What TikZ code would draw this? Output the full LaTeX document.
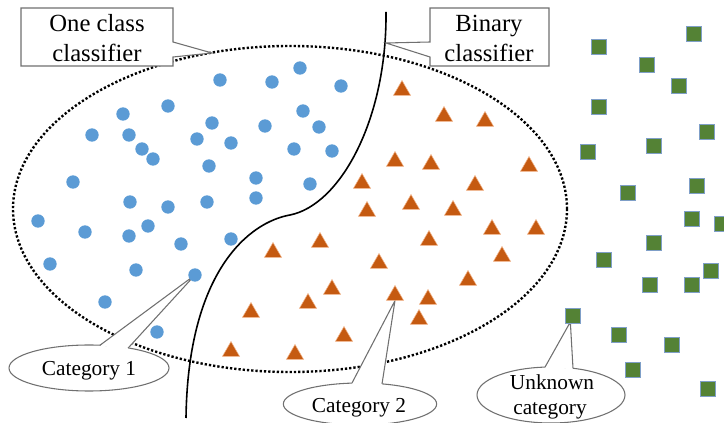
\documentclass[tikz,border=0pt]{standalone}
\usepackage{fontspec}
\setmainfont{Liberation Serif}
\usetikzlibrary{shapes.geometric}

\definecolor{ptblue}{HTML}{5B9BD5}
\definecolor{ptorange}{HTML}{C55A11}
\definecolor{ptorangeedge}{HTML}{F2B48A}
\definecolor{ptgreen}{HTML}{548235}
\definecolor{ptgreenedge}{HTML}{7F9FC8}
\definecolor{calloutgray}{HTML}{707070}

\pgfdeclarelayer{back}
\pgfdeclarelayer{mid}
\pgfsetlayers{back,mid,main}

\begin{document}
\begin{tikzpicture}[x=0.75pt,y=-0.75pt,
  dot/.style={circle, fill=ptblue, inner sep=0pt, minimum size=10pt},
  tri/.style={regular polygon, regular polygon sides=3, fill=ptorange,
    draw=ptorangeedge, line width=0.4pt, inner sep=0pt, minimum size=14.8pt,
    yshift=-1.8pt},
  sq/.style={rectangle, fill=ptgreen, draw=ptgreenedge, line width=0.6pt,
    inner sep=0pt, minimum size=11.2pt},
  region/.style={line width=1.8pt, dash pattern=on 1.7pt off 1.5pt},
  boundary/.style={line width=1.2pt, black},
  callout/.style={draw=calloutgray, line width=0.8pt, fill=white},
  pointer/.style={draw=calloutgray, line width=0.8pt},
  boxtext/.style={anchor=base, inner sep=0pt, font=\fontsize{18.5}{22}\selectfont},
  tagtext/.style={anchor=base, inner sep=0pt, font=\fontsize{16}{19}\selectfont}]

\useasboundingbox (0,0) rectangle (724,423);
\clip (0,0) rectangle (724,423);

% ---- category 1: circles
\foreach \x/\y [count=\i] in {300/68,220/80,272/82,341/86,168/106,123/114,303/111,
  212/123,265/126,319/127,92/135,129/135,197/139,231/143,142/149,294/149,332/151,
  153/159,209/166,73/182,256/178,310/184,130/202,168/207,207/202,256/198,38/221,
  85/232,129/236,148/226,181/244,231/239,50/264,136/270,105/302,157/332}
  \node[dot] (b\i) at (\x,\y) {};
\node[dot] (c1) at (195,275) {};

% ---- category 2: triangles
\foreach \x/\y [count=\i] in {402/88,444/114,485/119,395/159,431/162,529/164,362/181,
  475/183,411/202,453/208,367/209,492/227,536/227,429/238,379/261,502/254,468/278,
  428/297,419/317,320/240,273/250,332/287,308/301,251/310,344/334,231/349,295/352}
  \node[tri] (o\i) at (\x,\y) {};
\node[tri] (c2) at (395,293) {};

% ---- unknown category: squares
\foreach \x/\y [count=\i] in {694/34,599/47,647/65,679/86,599/107,707/132,654/146,
  588/152,697/186,628/193,692/219,722/224,654/243,604/260,711/271,650/285,692/285,
  619/335,672/345,633/370,708/389}
  \node[sq] (g\i) at (\x,\y) {};
\node[sq] (unk) at (573,316) {};

% ---- decision regions
\begin{pgfonlayer}{back}
  \draw[region] (290,209) ellipse [x radius=207.75pt, y radius=122.25pt];
  \draw[boundary] (386,12) .. controls (387,120) and (340,205) .. (290,215)
    .. controls (250,222) and (188,270) .. (186,418);
\end{pgfonlayer}

% ---- callouts
\begin{pgfonlayer}{mid}
  % one class classifier
  \path[callout] (21,8) -- (173,8) -- (173,42) -- (212,53) -- (173,57)
    -- (173,66) -- (21,66) -- cycle;
  \node[boxtext] (occa) at (97,31.7) {One class};
  \node[boxtext] (occb) at (97,61.7) {classifier};

  % binary classifier
  \path[callout] (430,8) -- (549,8) -- (549,66) -- (430,66) -- (430,57)
    -- (386,43) -- (430,42) -- cycle;
  \node[boxtext] (bina) at (489,31.7) {Binary};
  \node[boxtext] (binb) at (489,61.7) {classifier};

  % category 1
  \path[callout] (89,368) ellipse [x radius=60pt, y radius=17.25pt];
  \fill[white] (100,346) -- (c1.center) -- (128,349) -- cycle;
  \draw[pointer] (100,345.2) -- (c1.center) -- (128,348.2);
  \node[tagtext] (cat1) at (89,376) {Category 1};

  % category 2
  \path[callout] (360,404) ellipse [x radius=57.5pt, y radius=15.75pt];
  \fill[white] (352,384) -- (c2.south) -- (382,385) -- cycle;
  \draw[pointer] (352,383) -- (c2.south) -- (382,384);
  \node[tagtext] (cat2) at (359,412) {Category 2};

  % unknown category
  \path[callout] (551,395) ellipse [x radius=55.5pt, y radius=21pt];
  \fill[white] (545,368) -- ([xshift=-2pt,yshift=-4.5pt]unk.center) -- (573,369) -- cycle;
  \draw[pointer] (545,367.1) -- ([xshift=-2pt,yshift=-4.5pt]unk.center) -- (573,368.3);
  \node[tagtext] (unka) at (552,390) {Unknown};
  \node[tagtext] (unkb) at (550,415) {category};
\end{pgfonlayer}

\end{tikzpicture}
\end{document}
